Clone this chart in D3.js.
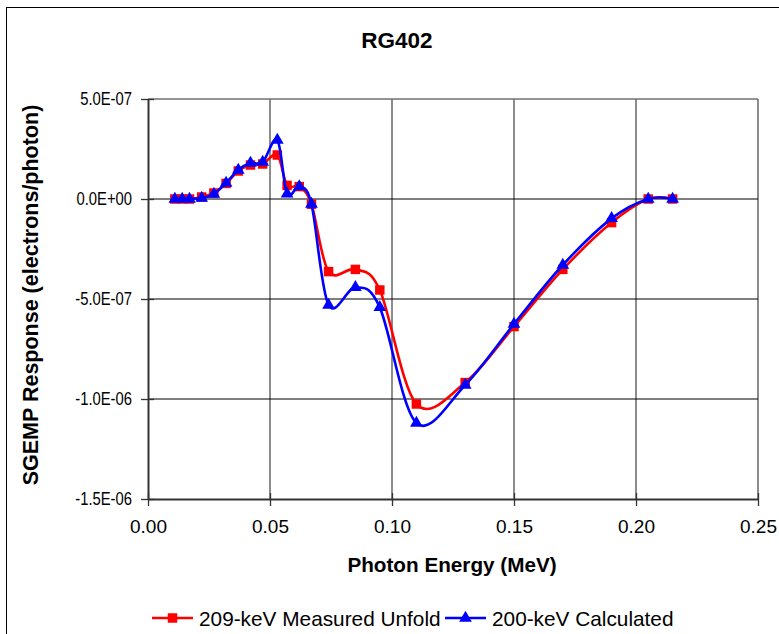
<!DOCTYPE html>
<html>
<head>
<meta charset="utf-8">
<script src="https://cdn.jsdelivr.net/npm/d3@7"></script>
<style>
  html, body { margin: 0; padding: 0; background: #fff; }
  svg { display: block; font-family: "Liberation Sans", Arial, sans-serif; }
</style>
</head>
<body>
<svg id="chart" width="779" height="634"></svg>
<script>
// Photon energy (MeV) of each sample
const energy = [0.011, 0.014, 0.017, 0.022, 0.027, 0.032, 0.037, 0.042, 0.047, 0.053, 0.057, 0.062, 0.067,
                0.074, 0.085, 0.095, 0.110, 0.130, 0.150, 0.170, 0.190, 0.205, 0.215];

// SGEMP response (electrons/photon)
const measured = [0, 0, 0, 0.1e-7, 0.3e-7, 0.78e-7, 1.4e-7, 1.7e-7, 1.75e-7, 2.2e-7, 0.68e-7, 0.62e-7, -0.26e-7,
                  -3.63e-7, -3.52e-7, -4.55e-7, -10.25e-7, -9.18e-7, -6.38e-7, -3.52e-7, -1.18e-7, 0, 0];
const calculated = [0, 0, 0, 0.05e-7, 0.25e-7, 0.8e-7, 1.45e-7, 1.8e-7, 1.85e-7, 2.95e-7, 0.26e-7, 0.62e-7, -0.26e-7,
                    -5.3e-7, -4.42e-7, -5.42e-7, -11.2e-7, -9.3e-7, -6.25e-7, -3.3e-7, -0.97e-7, 0, 0];

const seriesNames = ["209-keV Measured Unfold", "200-keV Calculated"];
const xTicks = [0, 0.05, 0.10, 0.15, 0.20, 0.25];
const xTickLabels = ["0.00", "0.05", "0.10", "0.15", "0.20", "0.25"];
const yTicks = [5e-7, 0, -5e-7, -1e-6, -1.5e-6];
const yTickLabels = ["5.0E-07", "0.0E+00", "-5.0E-07", "-1.0E-06", "-1.5E-06"];

const svg = d3.select("#chart");
const W = 779, H = 634;
const plot = { left: 148, right: 758, top: 99, bottom: 499 };

svg.append("rect").attr("width", W).attr("height", H).attr("fill", "#fff");
// chart frame
svg.append("rect").attr("x", 6.5).attr("y", 7.5).attr("width", W + 10).attr("height", H + 10)
  .attr("fill", "none").attr("stroke", "#000").attr("stroke-width", 1);

const x = d3.scaleLinear().domain([0, 0.25]).range([plot.left, plot.right]);
const y = d3.scaleLinear().domain([-1.5e-6, 5e-7]).range([plot.bottom, plot.top]);

// gridlines
const grid = svg.append("g");
grid.selectAll("line.v").data(xTicks.slice(1)).join("line")
  .attr("x1", d => x(d)).attr("x2", d => x(d))
  .attr("y1", plot.top).attr("y2", plot.bottom)
  .attr("stroke", "#707070").attr("stroke-width", 1.6);
grid.selectAll("line.h").data(yTicks.slice(0, -1)).join("line")
  .attr("x1", plot.left).attr("x2", plot.right)
  .attr("y1", d => y(d)).attr("y2", d => y(d))
  .attr("stroke", d => d === 5e-7 ? "#707070" : "#000")
  .attr("stroke-width", d => d === 5e-7 ? 1.6 : 1.1);

// axes
const xAxis = d3.axisBottom(x).tickValues(xTicks).tickFormat((d, i) => xTickLabels[i])
  .tickSizeInner(7).tickSizeOuter(0).tickPadding(14);
const gx = svg.append("g").attr("transform", `translate(0,${plot.bottom})`).call(xAxis);
const yAxis = d3.axisLeft(y).tickValues(yTicks).tickFormat((d, i) => yTickLabels[i])
  .tickSizeInner(7).tickSizeOuter(0).tickPadding(10);
const gy = svg.append("g").attr("transform", `translate(${plot.left},0)`).call(yAxis);

[gx, gy].forEach(g => {
  g.select(".domain").attr("stroke", "#333").attr("stroke-width", 2);
  g.selectAll(".tick line").attr("stroke", "#333").attr("stroke-width", 1.3);
  g.selectAll(".tick text").attr("font-family", "Liberation Sans, Arial, sans-serif")
    .attr("font-size", 19).attr("fill", "#000");
});
// ticks cross the axis line
gx.selectAll(".tick line").attr("y1", -6);
gy.selectAll(".tick line").attr("x1", 6);
// y labels set in a condensed width, right edge kept at the tick
gy.selectAll(".tick text")
  .attr("font-size", 18.5)
  .attr("x", null)
  .attr("transform", "translate(-16,0) scale(0.8,1)");

// titles
svg.append("text").attr("x", 397).attr("y", 48).attr("text-anchor", "middle")
  .attr("font-size", 22.5).attr("font-weight", "bold").text("RG402");
svg.append("text").attr("x", 452).attr("y", 572).attr("text-anchor", "middle")
  .attr("font-size", 20.7).attr("font-weight", "bold").text("Photon Energy (MeV)");
svg.append("text").attr("transform", `translate(38,${(plot.top + plot.bottom) / 2 - 4}) rotate(-90)`)
  .attr("text-anchor", "middle").attr("font-size", 21.5).attr("font-weight", "bold")
  .text("SGEMP Response (electrons/photon)");

// series
const line = d3.line().x(d => x(d[0])).y(d => y(d[1])).curve(d3.curveCardinal.tension(0));
const series = [
  { name: seriesNames[0], values: measured, color: "#ff0000", symbol: d3.symbolSquare, size: 90 },
  { name: seriesNames[1], values: calculated, color: "#0000ff", symbol: d3.symbolTriangle, size: 70 }
];

series.forEach(s => {
  const pts = energy.map((e, i) => [e, s.values[i]]);
  const g = svg.append("g");
  g.append("path").attr("d", line(pts)).attr("fill", "none")
    .attr("stroke", s.color).attr("stroke-width", 2.6);
  g.selectAll("path.m").data(pts).join("path").attr("class", "m")
    .attr("transform", d => `translate(${x(d[0])},${y(d[1])})`)
    .attr("d", d3.symbol().type(s.symbol).size(s.size)())
    .attr("fill", s.color);
});

// legend
const legendItems = [
  { s: series[0], x0: 152 },
  { s: series[1], x0: 445 }
];
const ly = 618;
legendItems.forEach(({ s, x0 }) => {
  const g = svg.append("g");
  g.append("line").attr("x1", x0).attr("x2", x0 + 41).attr("y1", ly).attr("y2", ly)
    .attr("stroke", s.color).attr("stroke-width", 2.6);
  g.append("path").attr("transform", `translate(${x0 + 20.5},${ly})`)
    .attr("d", d3.symbol().type(s.symbol).size(s.size)()).attr("fill", s.color);
  g.append("text").attr("x", x0 + 47).attr("y", ly + 8).attr("font-size", 20.8)
    .attr("fill", "#000").text(s.name);
});
</script>
</body>
</html>
